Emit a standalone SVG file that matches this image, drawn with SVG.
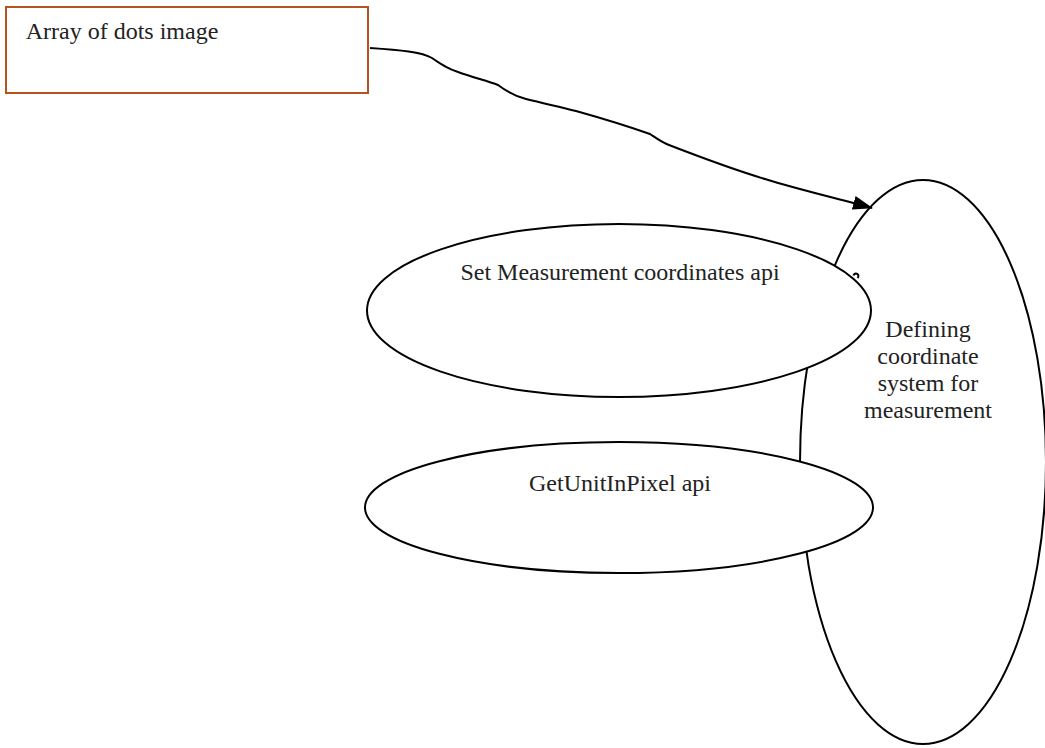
<svg xmlns="http://www.w3.org/2000/svg" width="1045" height="748" viewBox="0 0 1045 748">
  <style>
    .lbl { font-family: "Liberation Serif", "Times New Roman", serif; font-size: 24px; fill: #222; text-anchor: middle; }
    .oval { fill: #fff; stroke: #000; stroke-width: 2; }
    .edge { fill: none; stroke: #000; stroke-width: 2; }
  </style>
  <defs>
    <marker id="arrow" viewBox="0 0 20 14" refX="19" refY="7" markerWidth="20" markerHeight="14" markerUnits="userSpaceOnUse" orient="auto">
      <path d="M0,0 L20,7 L0,14 Z" fill="#000"/>
    </marker>
  </defs>

  <rect width="1045" height="748" fill="#fff"/>

  <!-- coordinate system node (behind the api ovals) -->
  <g id="node-coordinate-system">
    <ellipse class="oval" cx="923" cy="462" rx="123" ry="282"/>
    <text class="lbl" x="928" y="337">Defining</text>
    <text class="lbl" x="928" y="364">coordinate</text>
    <text class="lbl" x="928" y="391">system for</text>
    <text class="lbl" x="928" y="418">measurement</text>
  </g>

  <g id="connectors">
    <path class="edge" d="M370,48 C400,50 422,52 432,58 C442,65 448,69 458,72 C472,77 487,81 498,85 C506,91 514,96 526,99 C546,104 561,107 576,111 C601,118 630,127 650,134 C656,138 661,142 669,145 C700,157 735,170 765,179 C800,190 840,199 872,208" marker-end="url(#arrow)"/>
    <path class="edge" d="M853.5,275.5 a2.5,2.5 0 1 1 4,2.5"/>
  </g>

  <g id="node-array-of-dots">
    <rect x="6" y="7" width="362" height="86" fill="#fff" stroke="#B4531F" stroke-width="2"/>
    <text class="lbl" x="122" y="39">Array of dots image</text>
  </g>

  <g id="node-set-measurement">
    <ellipse class="oval" cx="619" cy="310.5" rx="252" ry="86.5"/>
    <text class="lbl" x="620" y="280">Set Measurement coordinates api</text>
  </g>

  <g id="node-get-unit">
    <ellipse class="oval" cx="619" cy="507.5" rx="254" ry="65.5"/>
    <text class="lbl" x="620" y="491">GetUnitInPixel api</text>
  </g>
</svg>
